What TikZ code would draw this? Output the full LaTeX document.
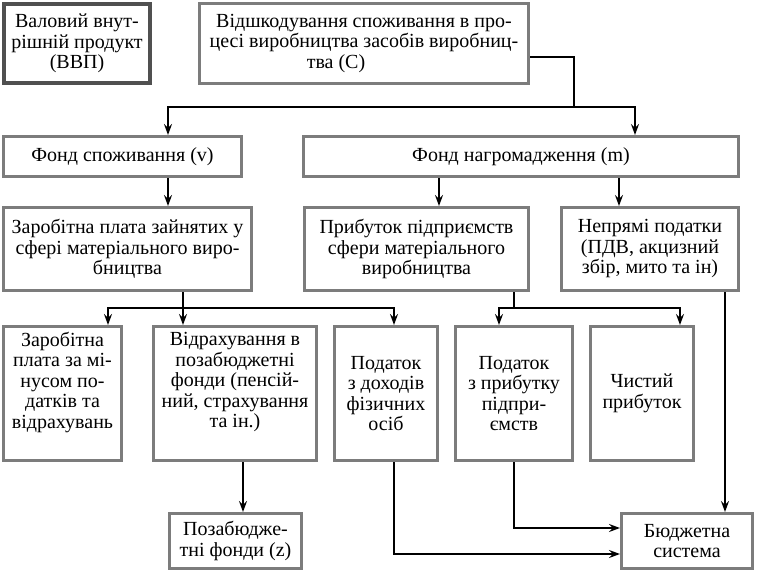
\documentclass[tikz,border=0pt]{standalone}
\usepackage{fontspec}
\setmainfont{Liberation Serif}
\usetikzlibrary{arrows.meta}
\definecolor{boxgray}{HTML}{7C7C7C}
\definecolor{boxdark}{HTML}{505050}
\tikzset{
  x=1pt,y=-1pt,
  box/.style={draw=boxgray, line width=3pt, fill=white, align=center, inner sep=2pt,
    font=\fontsize{20}{20.5}\selectfont},
  darkbox/.style={box, draw=boxdark, line width=4pt},
  ln/.style={line width=1.6pt, black},
  arr/.style={ln, -{Stealth[length=11pt,width=8pt,inset=4pt]}}
}
\begin{document}
\begin{tikzpicture}
\path[fill=white] (0,0) rectangle (757,573);
\useasboundingbox (0,0) rectangle (757,573);
% nodes
\node[darkbox, minimum width=146, minimum height=79] (gdp) at (77,43.5) {Валовий внут-\\рішній продукт\\(ВВП)};
\node[box, minimum width=329, minimum height=80] (comp) at (364,43.5) {Відшкодування споживання в про-\\цесі виробництва засобів виробниц-\\тва (С)\hspace*{56pt}};
\node[box, minimum width=238, minimum height=40] (cons) at (122.5,156.5) {Фонд споживання (v)};
\node[box, minimum width=435, minimum height=40] (accum) at (521,156.5) {Фонд нагромадження (m)};
\node[box, minimum width=248, minimum height=83] (wage) at (127.5,249) {Заробітна плата зайнятих у\\сфері матеріального виро-\\бництва};
\node[box, minimum width=224, minimum height=83] (profit) at (416.5,249) {Прибуток підприємств\\сфери матеріального\\виробництва};
\node[box, minimum width=177, minimum height=83] (indirect) at (650,249) {Непрямі податки\\(ПДВ, акцизний\\збір, мито та ін)};
\node[box, minimum width=118, minimum height=134] (b1) at (62.5,393.5) {Заробітна\\плата за мі-\\нусом по-\\датків та\\відрахувань\\[6pt]};
\node[box, minimum width=163, minimum height=134] (b2) at (235,393.5) {Відрахування в\\позабюджетні\\фонди (пенсій-\\ний, страхування\\та ін.)\\[6pt]};
\node[box, minimum width=103, minimum height=134] (b3) at (386,393.5) {Податок\\з доходів\\фізичних\\осіб};
\node[box, minimum width=117, minimum height=134] (b4) at (514,393.5) {Податок\\з прибутку\\підпри-\\ємств};
\node[box, minimum width=103, minimum height=134] (b5) at (642,393.5) {Чистий\\прибуток};
\node[box, minimum width=132, minimum height=55] (extra) at (235.5,541) {Позабюдже-\\тні фонди (z)};
\node[box, minimum width=131, minimum height=55] (budget) at (687,541) {Бюджетна\\система};
% helper coordinates
\coordinate (h57) at (0,57);
\coordinate (h107) at (0,107);
\coordinate (h308) at (0,308);
\coordinate (h528) at (0,528);
\coordinate (h554) at (0,554);
\coordinate (v108) at (108,0);
\coordinate (v168) at (168,0);
\coordinate (v183) at (183,0);
\coordinate (v243) at (243,0);
\coordinate (v394) at (394,0);
\coordinate (v439) at (439,0);
\coordinate (v499) at (499,0);
\coordinate (v514) at (514,0);
\coordinate (v574) at (574,0);
\coordinate (v619) at (619,0);
\coordinate (v635) at (635,0);
\coordinate (v680) at (680,0);
\coordinate (v725) at (725,0);
% connectors
\draw[ln] (comp.east |- h57) -| (v574 |- h107);
\draw[arr] (v574 |- h107) -| (cons.north -| v168);
\draw[arr] (v574 |- h107) -| (accum.north -| v635);
\draw[arr] (cons.south -| v168) -- (wage.north -| v168);
\draw[arr] (accum.south -| v439) -- (profit.north -| v439);
\draw[arr] (accum.south -| v619) -- (indirect.north -| v619);
\draw[arr] (wage.south -| v183) -- (b2.north -| v183);
\draw[arr] (v183 |- h308) -| (b1.north -| v108);
\draw[arr] (v183 |- h308) -| (b3.north -| v394);
\draw[ln] (profit.south -| v514) -- (v514 |- h308);
\draw[arr] (v514 |- h308) -| (b4.north -| v499);
\draw[arr] (v514 |- h308) -| (b5.north -| v680);
\draw[arr] (b2.south -| v243) -- (extra.north -| v243);
\draw[arr] (indirect.south -| v725) -- (budget.north -| v725);
\draw[arr] (b4.south -| v514) |- (budget.west |- h528);
\draw[arr] (b3.south -| v394) |- (budget.west |- h554);
\end{tikzpicture}
\end{document}
